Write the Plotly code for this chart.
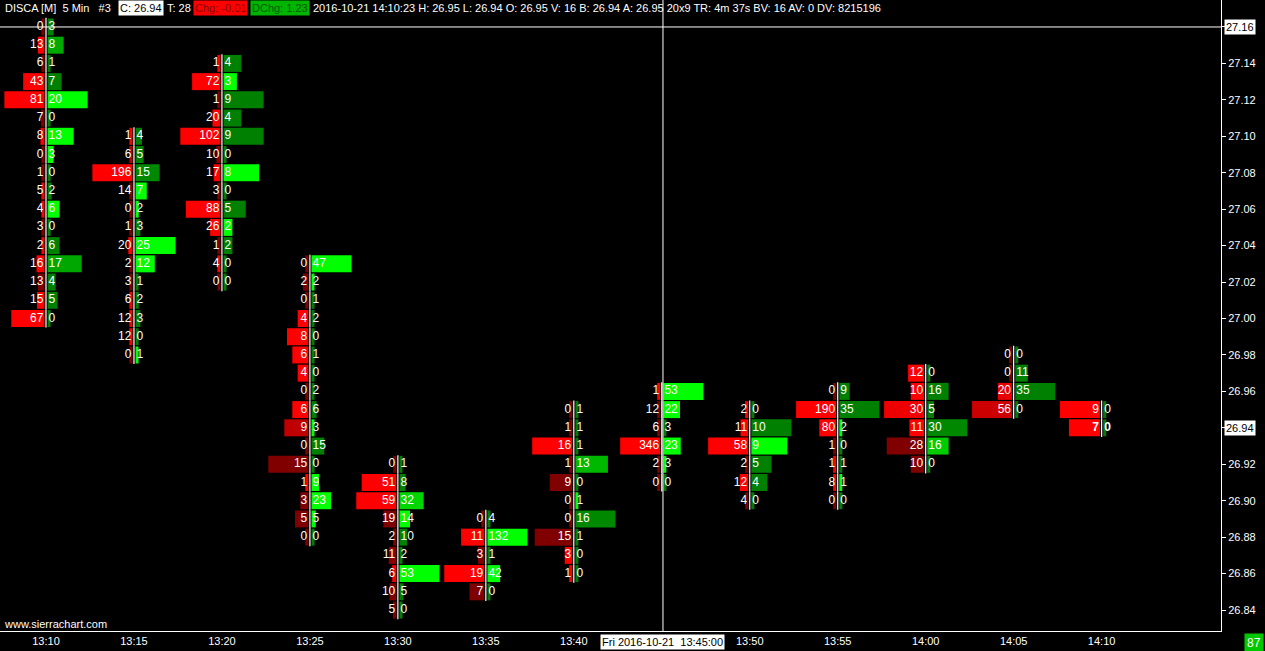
import plotly.graph_objects as go

# ---------------- data ----------------
times = ["13:10", "13:15", "13:20", "13:25", "13:30", "13:35", "13:40",
         "13:45", "13:50", "13:55", "14:00", "14:05", "14:10"]
# highest price level traded in each 5-minute bar
top_price = [27.16, 27.10, 27.14, 27.03, 26.92, 26.89, 26.95,
             26.96, 26.95, 26.96, 26.97, 26.98, 26.95]
# bid volume per price level, from the top price downwards (0.01 steps)
bid_volume = [
    [0, 13, 6, 43, 81, 7, 8, 0, 1, 5, 4, 3, 2, 16, 13, 15, 67],
    [1, 6, 196, 14, 0, 1, 20, 2, 3, 6, 12, 12, 0],
    [1, 72, 1, 20, 102, 10, 17, 3, 88, 26, 1, 4, 0],
    [0, 2, 0, 4, 8, 6, 4, 0, 6, 9, 0, 15, 1, 3, 5, 0],
    [0, 51, 59, 19, 2, 11, 6, 10, 5],
    [0, 11, 3, 19, 7],
    [0, 1, 16, 1, 9, 0, 0, 15, 3, 1],
    [1, 12, 6, 346, 2, 0],
    [2, 11, 58, 2, 12, 4],
    [0, 190, 80, 1, 1, 8, 0],
    [12, 10, 30, 11, 28, 10],
    [0, 0, 20, 56],
    [9, 7],
]
# ask volume per price level, from the top price downwards
ask_volume = [
    [3, 8, 1, 7, 20, 0, 13, 3, 0, 2, 6, 0, 6, 17, 4, 5, 0],
    [4, 5, 15, 7, 2, 3, 25, 12, 1, 2, 3, 0, 1],
    [4, 3, 9, 4, 9, 0, 8, 0, 5, 2, 2, 0, 0],
    [47, 2, 1, 2, 0, 1, 0, 2, 6, 3, 15, 0, 9, 23, 5, 0],
    [1, 8, 32, 14, 10, 2, 53, 5, 0],
    [4, 132, 1, 42, 0],
    [1, 1, 1, 13, 0, 1, 16, 1, 0, 0],
    [53, 22, 3, 23, 3, 0],
    [0, 10, 9, 5, 4, 0],
    [9, 35, 2, 0, 1, 1, 0],
    [0, 16, 5, 30, 16, 0],
    [0, 11, 35, 0],
    [0, 0],
]
price_ticks = [round(26.84 + 0.02 * k, 2) for k in range(17)]
last_price = 26.94
cursor_time = "13:45"
cursor_price = 27.16
cursor_label = "Fri 2016-10-21  13:45:00"
header_parts = [
    ("DISCA [M]\u00a0\u00a05 Min\u00a0\u00a0\u00a0#3", None),
    ("C: 26.94", "c"),
    ("T: 28", None),
    ("Chg: -0.01", "chg"),
    ("DChg: 1.23", "dchg"),
    ("2016-10-21 14:10:23 H: 26.95 L: 26.94 O: 26.95 V: 16 B: 26.94 A: 26.95 "
     "20x9 TR: 4m 37s BV: 16 AV: 0 DV: 8215196", None),
]
bars_remaining = "87"

# ---------------- layout constants ----------------
FONT = "Liberation Sans, Arial, sans-serif"
FIG_W, FIG_H = 1265, 651
M_R, M_B = 44, 20
W, H = FIG_W - M_R, FIG_H - M_B          # plot area in px
X_RANGE = [-0.5229, 13.357]
Y_RANGE = [26.8285, 27.1748]
PX_X = W / (X_RANGE[1] - X_RANGE[0])     # px per column unit
PX_Y = H / (Y_RANGE[1] - Y_RANGE[0])     # px per price unit
MAX_BAR = 40 / PX_X
MIN_BAR = 3 / PX_X
GAP = 1.6 / PX_X
TXT_GAP = 2.6 / PX_X
ROW_H = 17 / PX_Y


def shade(v, opp, side):
    if v <= 0:
        t = 0.0
    elif opp <= 0:
        t = 1.0
    else:
        t = min(max(v / opp - 1.0, 0.0), 1.0)
    c = int(round(128 + 127 * t))
    return f"rgb({c},0,0)" if side == "bid" else f"rgb(0,{c},0)"


bid_y, bid_x, bid_base, bid_col = [], [], [], []
ask_y, ask_x, ask_base, ask_col = [], [], [], []
tb_x, tb_y, tb_t, ta_x, ta_y, ta_t, sep_x, sep_y = [], [], [], [], [], [], [], []

for i, (top, bids, asks) in enumerate(zip(top_price, bid_volume, ask_volume)):
    mb = max(bids) or 1
    ma = max(asks) or 1
    n = len(bids)
    for k in range(n):
        p = round(top - 0.01 * k, 2)
        b, a = bids[k], asks[k]
        lb = max(MIN_BAR, b / mb * MAX_BAR)
        la = max(MIN_BAR, a / ma * MAX_BAR)
        bid_y.append(p); bid_x.append(lb); bid_base.append(i - GAP - lb)
        ask_y.append(p); ask_x.append(la); ask_base.append(i + GAP)
        opp_b = asks[k - 1] if k > 0 else 0
        opp_a = bids[k + 1] if k < n - 1 else 0
        bid_col.append(shade(b, opp_b, "bid"))
        ask_col.append(shade(a, opp_a, "ask"))
        last = (i == len(times) - 1 and k == n - 1)
        tb_x.append(i - TXT_GAP); tb_y.append(p)
        tb_t.append(f"<b>{b}</b>" if last else str(b))
        ta_x.append(i + TXT_GAP); ta_y.append(p)
        ta_t.append(f"<b>{a}</b>" if last else str(a))
        sep_x.append(i); sep_y.append(p)

fig = go.Figure()
fig.add_trace(go.Bar(orientation="h", y=bid_y, x=bid_x, base=bid_base,
                     width=ROW_H, marker=dict(color=bid_col, line=dict(width=0)),
                     hoverinfo="skip"))
fig.add_trace(go.Bar(orientation="h", y=ask_y, x=ask_x, base=ask_base,
                     width=ROW_H, marker=dict(color=ask_col, line=dict(width=0)),
                     hoverinfo="skip"))
fig.add_trace(go.Scatter(x=sep_x, y=sep_y, mode="markers", hoverinfo="skip",
                         marker=dict(symbol="line-ns", size=13, color="white",
                                     line=dict(color="white", width=1.2))))
fig.add_trace(go.Scatter(x=tb_x, y=tb_y, text=tb_t, mode="text",
                         textposition="middle left", hoverinfo="skip",
                         textfont=dict(color="white", size=12, family=FONT)))
fig.add_trace(go.Scatter(x=ta_x, y=ta_y, text=ta_t, mode="text",
                         textposition="middle right", hoverinfo="skip",
                         textfont=dict(color="white", size=12, family=FONT)))

cx = times.index(cursor_time) + 1.2 / PX_X
shapes = [
    dict(type="line", xref="x", yref="paper", x0=cx, x1=cx, y0=0, y1=1,
         line=dict(color="white", width=1), layer="above"),
    dict(type="line", xref="paper", yref="y", x0=0, x1=1, y0=cursor_price,
         y1=cursor_price, line=dict(color="white", width=1), layer="above"),
]


def px(x):
    return x / W


def py(y):
    return 1 - y / H


header_x = [3, 118, 165, 193, 250, 311]
styles = {
    None: dict(bg="rgba(0,0,0,0)", fg="white"),
    "c": dict(bg="white", fg="black"),
    "chg": dict(bg="#ff0000", fg="#8a0000"),
    "dchg": dict(bg="#00b400", fg="#005a00"),
}
ann = []
for (txt, st), hx in zip(header_parts, header_x):
    s = styles[st]
    ann.append(dict(xref="paper", yref="paper", x=px(hx), y=py(8.5),
                    xanchor="left", yanchor="middle", text=txt, showarrow=False,
                    bgcolor=s["bg"], borderpad=1,
                    font=dict(color=s["fg"], size=11, family=FONT)))
ann.append(dict(xref="paper", yref="paper", x=px(2), y=py(624), xanchor="left",
                yanchor="middle", text="www.sierrachart.com", showarrow=False,
                font=dict(color="white", size=11, family=FONT)))
for pr in (cursor_price, last_price):
    ann.append(dict(xref="paper", yref="y", x=px(1224), y=pr, xanchor="left",
                    yanchor="middle", text=f"{pr:.2f}", showarrow=False,
                    bgcolor="white", borderpad=1,
                    font=dict(color="black", size=11, family=FONT)))
ann.append(dict(xref="x", yref="paper", x=cx, y=py(642), xanchor="center",
                yanchor="middle", text=cursor_label.replace(" ", "\u00a0"),
                showarrow=False, bgcolor="white", borderpad=1,
                font=dict(color="black", size=11, family=FONT)))
ann.append(dict(xref="paper", yref="paper", x=px(1264), y=py(642.5),
                xanchor="right", yanchor="middle", text=bars_remaining,
                showarrow=False, bgcolor="#00c800", borderpad=2,
                font=dict(color="white", size=12, family=FONT)))

hidden_prices = {cursor_price, last_price}
y_ticktext = ["" if t in hidden_prices else f"{t:.2f}" for t in price_ticks]
x_ticktext = ["" if t == cursor_time else t for t in times]

fig.update_layout(
    width=FIG_W, height=FIG_H,
    margin=dict(l=0, r=M_R, t=0, b=M_B, pad=0),
    paper_bgcolor="black", plot_bgcolor="black",
    showlegend=False, barmode="overlay",
    shapes=shapes, annotations=ann,
    xaxis=dict(range=X_RANGE, tickmode="array",
               tickvals=list(range(len(times))), ticktext=x_ticktext,
               showgrid=False, zeroline=False, showline=True,
               linecolor="white", linewidth=1, ticks="",
               tickfont=dict(color="white", size=11, family=FONT)),
    yaxis=dict(range=Y_RANGE, side="right", tickmode="array",
               tickvals=price_ticks, ticktext=y_ticktext,
               showgrid=False, zeroline=False, showline=True,
               linecolor="white", linewidth=1, ticks="outside", ticklen=4,
               tickcolor="white",
               tickfont=dict(color="white", size=11, family=FONT)),
)

fig.write_html("out.html", config={"displayModeBar": False},
               post_script="document.body.style.margin='0';"
                           "document.body.style.overflow='hidden';")
